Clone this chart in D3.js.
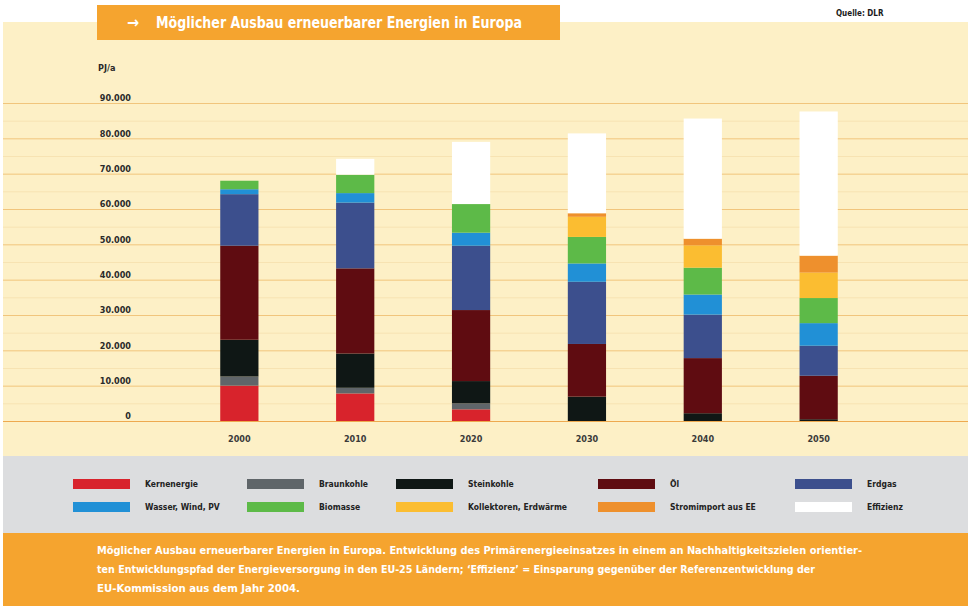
<!DOCTYPE html>
<html>
<head>
<meta charset="utf-8">
<script src="https://cdn.jsdelivr.net/npm/d3@7/dist/d3.min.js"></script>
<style>
    body { margin: 0; background: #ffffff; }
    svg text { font-family: "Liberation Sans Narrow", "DejaVu Sans Condensed", "Roboto", sans-serif; font-weight: bold; }
</style>
</head>
<body>
<svg id="chart"></svg>
<script>
    //data (PJ/a)
    var years = ['2000', '2010', '2020', '2030', '2040', '2050'];
    var kernenergie = [10000, 7800, 3300, 0, 0, 0];
    var braunkohle = [2600, 1600, 1700, 0, 0, 0];
    var steinkohle = [10400, 9700, 6300, 6900, 2200, 500];
    var oel = [26600, 24100, 20100, 14900, 15600, 12300];
    var erdgas = [14600, 18600, 18200, 17600, 12300, 8500];
    var wasser = [1400, 2700, 3700, 5200, 5700, 6400];
    var biomasse = [2400, 5200, 8100, 7500, 7600, 7100];
    var kollektoren = [0, 0, 0, 5700, 6300, 7200];
    var stromimport = [0, 0, 0, 1000, 1900, 4800];
    var effizienz = [0, 4500, 17600, 22600, 34000, 40800];

    var seriesNames = ['Kernenergie', 'Braunkohle', 'Steinkohle', 'Öl', 'Erdgas',
        'Wasser, Wind, PV', 'Biomasse', 'Kollektoren, Erdwärme', 'Stromimport aus EE', 'Effizienz'];
    var seriesValues = [kernenergie, braunkohle, steinkohle, oel, erdgas,
        wasser, biomasse, kollektoren, stromimport, effizienz];
    var seriesColors = ['#d8232c', '#5f6569', '#0f1715', '#5f0c11', '#3c4f8d',
        '#2190d6', '#5dba48', '#fbbd31', '#ee902d', '#ffffff'];

    var yTicks = [0, 10000, 20000, 30000, 40000, 50000, 60000, 70000, 80000, 90000];

    var title = 'Möglicher Ausbau erneuerbarer Energien in Europa';
    var captionLines = [
        'Möglicher Ausbau erneuerbarer Energien in Europa. Entwicklung des Primärenergieeinsatzes in einem an Nachhaltigkeitszielen orientier-',
        'ten Entwicklungspfad der Energieversorgung in den EU-25 Ländern; ‘Effizienz’ = Einsparung gegenüber der Referenzentwicklung der',
        'EU-Kommission aus dem Jahr 2004.'
    ];

    var width = 968, height = 606;

    var svg = d3.select('#chart')
        .attr('width', width)
        .attr('height', height);

    //background bands
    svg.append('rect').attr('x', 0).attr('y', 0).attr('width', width).attr('height', height).attr('fill', '#ffffff');
    svg.append('rect').attr('x', 3).attr('y', 22).attr('width', width - 3).attr('height', 434).attr('fill', '#fdf0c6');
    svg.append('rect').attr('x', 3).attr('y', 456).attr('width', width - 3).attr('height', 77).attr('fill', '#dcdddf');
    svg.append('rect').attr('x', 3).attr('y', 533).attr('width', width - 3).attr('height', 73).attr('fill', '#f5a42f');

    //table for the stack
    var table = years.map(function (y, i) {
        var row = { year: y };
        seriesNames.forEach(function (name, k) {
            row[name] = seriesValues[k][i];
        });
        return row;
    });

    var stacked = d3.stack().keys(seriesNames)(table);

    //scales
    var xScale = d3.scaleBand()
        .domain(years)
        .range([182, 876])
        .paddingInner(0.67)
        .paddingOuter(0.33);

    var yScale = d3.scaleLinear()
        .domain([0, 90000])
        .range([421, 103]);

    var color = d3.scaleOrdinal().domain(seriesNames).range(seriesColors);

    //german number format 90.000
    var de = d3.formatLocale({ decimal: ',', thousands: '.', grouping: [3], currency: ['', ' €'] });
    var fmt = de.format(',');

    //faint half lines
    svg.append('g')
        .selectAll('line')
        .data(d3.range(5000, 90000, 10000))
        .enter().append('line')
        .attr('x1', 3).attr('x2', width)
        .attr('y1', function (d) { return yScale(d) + 0.5; })
        .attr('y2', function (d) { return yScale(d) + 0.5; })
        .attr('stroke', '#f7e3b2')
        .attr('stroke-width', 1);

    //grid lines
    svg.append('g')
        .selectAll('line')
        .data(yTicks)
        .enter().append('line')
        .attr('x1', 3).attr('x2', width)
        .attr('y1', function (d) { return yScale(d) + 0.5; })
        .attr('y2', function (d) { return yScale(d) + 0.5; })
        .attr('stroke', function (d) { return d === 0 ? '#eea94f' : '#f1c57c'; })
        .attr('stroke-width', 1);

    //y axis labels only
    var yAxis = svg.append('g')
        .attr('transform', 'translate(131,0)')
        .call(d3.axisLeft(yScale).tickValues(yTicks).tickSize(0).tickPadding(0).tickFormat(fmt));
    yAxis.select('.domain').remove();
    yAxis.selectAll('text')
        .attr('dy', '-0.25em')
        .attr('fill', '#2a2a2a')
        .style('font-size', '9px');

    svg.append('text')
        .attr('x', 98).attr('y', 71)
        .attr('fill', '#2a2a2a')
        .style('font-size', '9px')
        .text('PJ/a');

    //bars
    svg.append('g')
        .selectAll('g')
        .data(stacked)
        .enter().append('g')
        .attr('fill', function (d) { return color(d.key); })
        .selectAll('rect')
        .data(function (d) { return d; })
        .enter().append('rect')
        .attr('x', function (d) { return xScale(d.data.year); })
        .attr('y', function (d) { return yScale(d[1]); })
        .attr('height', function (d) { return yScale(d[0]) - yScale(d[1]); })
        .attr('width', xScale.bandwidth());

    //x axis labels
    var xAxis = svg.append('g')
        .attr('transform', 'translate(0,436)')
        .call(d3.axisBottom(xScale).tickSize(0).tickPadding(0));
    xAxis.select('.domain').remove();
    xAxis.selectAll('text')
        .attr('fill', '#3a3a3a')
        .style('font-size', '9px');

    //title box
    svg.append('rect')
        .attr('x', 97).attr('y', 5).attr('width', 463).attr('height', 35)
        .attr('fill', '#f5a42f');
    svg.append('text')
        .attr('x', 127).attr('y', 28)
        .attr('fill', '#ffffff')
        .style('font-size', '16px')
        .text('→');
    svg.append('text')
        .attr('x', 156).attr('y', 28)
        .attr('fill', '#ffffff')
        .style('font-size', '16px')
        .attr('textLength', 366)
        .attr('lengthAdjust', 'spacingAndGlyphs')
        .text(title);

    svg.append('text')
        .attr('x', 836).attr('y', 16)
        .attr('fill', '#1a1a1a')
        .style('font-size', '8px')
        .text('Quelle: DLR');

    //legend, two rows of five
    var legendCols = [73, 247, 396, 598, 795];
    var legendRows = [484, 507];
    var legend = svg.append('g')
        .selectAll('g')
        .data(seriesNames)
        .enter().append('g')
        .attr('transform', function (d, i) {
            return 'translate(' + legendCols[i % 5] + ',' + legendRows[Math.floor(i / 5)] + ')';
        });
    legend.append('rect')
        .attr('x', 0).attr('y', -5)
        .attr('width', 57).attr('height', 10)
        .attr('fill', function (d) { return color(d); });
    legend.append('text')
        .attr('x', 72).attr('y', 3)
        .attr('fill', '#222222')
        .style('font-size', '8.5px')
        .text(function (d) { return d; });

    //caption
    var captionWidths = [765, 718, 203];
    svg.append('g')
        .selectAll('text')
        .data(captionLines)
        .enter().append('text')
        .attr('x', 97)
        .attr('y', function (d, i) { return 554 + i * 19; })
        .attr('fill', '#ffffff')
        .style('font-size', '10px')
        .attr('textLength', function (d, i) { return captionWidths[i]; })
        .attr('lengthAdjust', 'spacingAndGlyphs')
        .text(function (d) { return d; });
</script>
</body>
</html>
